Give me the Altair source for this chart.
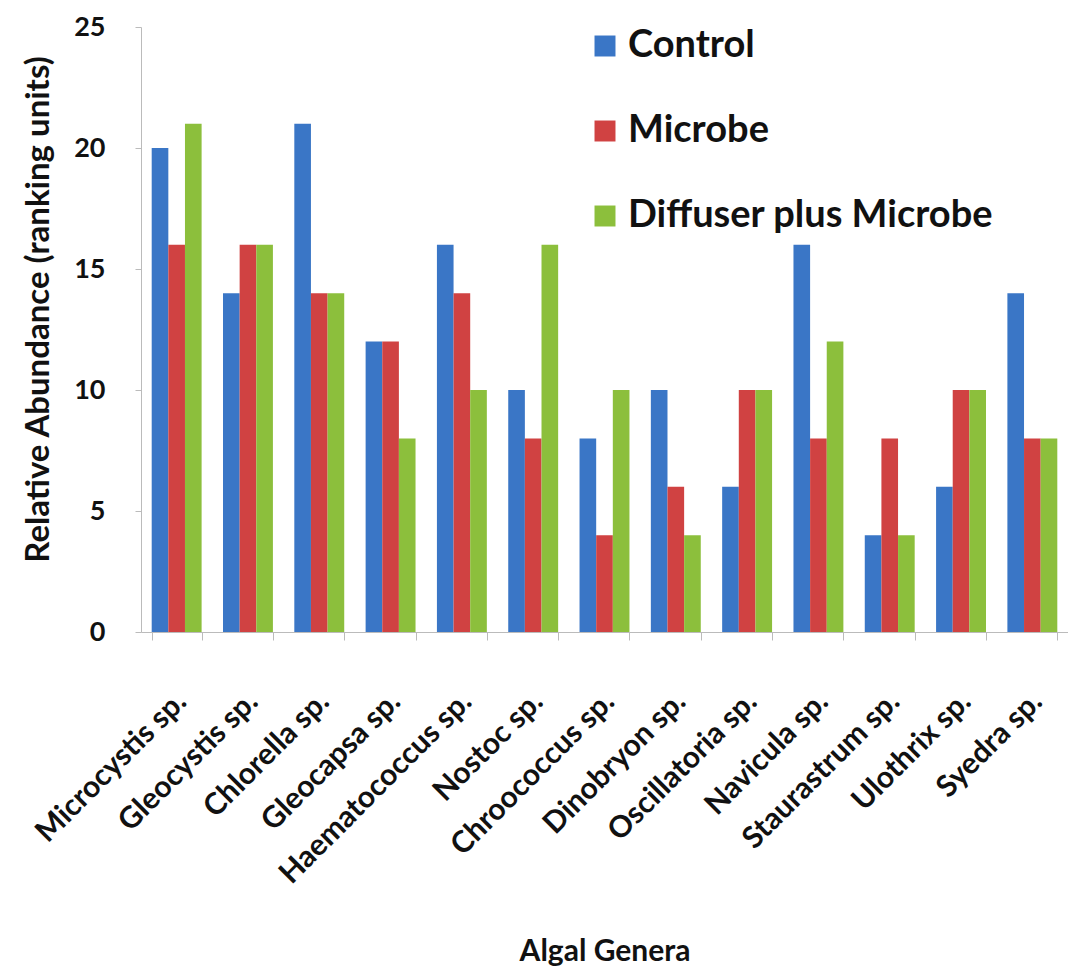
import altair as alt
import pandas as pd

genera = ["Microcystis sp.", "Gleocystis sp.", "Chlorella sp.", "Gleocapsa sp.",
          "Haematococcus sp.", "Nostoc sp.", "Chroococcus sp.", "Dinobryon sp.",
          "Oscillatoria sp.", "Navicula sp.", "Staurastrum sp.", "Ulothrix sp.", "Syedra sp."]
series = ["Control", "Microbe", "Diffuser plus Microbe"]
control = [20, 14, 21, 12, 16, 10, 8, 10, 6, 16, 4, 6, 14]
microbe = [16, 16, 14, 12, 14, 8, 4, 6, 10, 8, 8, 10, 8]
diffuser = [21, 16, 14, 8, 10, 16, 10, 4, 10, 12, 4, 10, 8]
colors = ["#3a76c6", "#d04242", "#8cbf3c"]

rows = []
for i, g in enumerate(genera):
    for s, vals in zip(series, [control, microbe, diffuser]):
        rows.append({"genus": g, "series": s, "value": vals[i]})
df = pd.DataFrame(rows)

FONT = "Lato"

chart = alt.Chart(df).mark_bar().encode(
    x=alt.X("genus:N", sort=genera, title="Algal Genera",
            scale=alt.Scale(paddingInner=0.3, paddingOuter=0.15),
            axis=alt.Axis(labelAngle=-45, labelFontSize=30, labelFont=FONT, labelFontWeight="bold",
                          labelColor="#111", domainColor="#bbbbbb", tickColor="#bbbbbb",
                          tickBand="extent", tickSize=8, labelPadding=46, labelOffset=-6,
                          labelLimit=400,
                          titleFontSize=30, titleFont=FONT, titleFontWeight="bold", titleColor="#111",
                          titleY=328, titleBaseline="alphabetic")),
    xOffset=alt.XOffset("series:N", sort=series),
    y=alt.Y("value:Q", title="Relative Abundance (ranking units)",
            scale=alt.Scale(domain=[0, 25], nice=False),
            axis=alt.Axis(values=[0, 5, 10, 15, 20, 25], grid=False, labelFontSize=27,
                          labelFont=FONT, labelFontWeight="bold", labelColor="#111",
                          domainColor="#bbbbbb", tickColor="#bbbbbb", tickSize=6, labelPadding=30,
                          titleFontSize=33, titleFont=FONT, titleFontWeight="bold", titleColor="#111",
                          titleX=-103, titleY=282, titleAngle=-90, titleBaseline="middle")),
    color=alt.Color("series:N", sort=series,
                    scale=alt.Scale(domain=series, range=colors),
                    legend=alt.Legend(title=None, orient="none", legendX=445, legendY=0,
                                      symbolType="square", symbolSize=440, symbolStrokeWidth=0,
                                      labelFontSize=38, labelFont=FONT, labelFontWeight="bold",
                                      labelColor="#111", rowPadding=47, labelOffset=4,
                                      labelLimit=600)),
).properties(
    width=927, height=605,
    autosize=alt.AutoSizeParams(type="none"),
    padding={"left": 133, "top": 19, "right": 0, "bottom": 335},
).configure_view(stroke=None)

chart.save("out.html", embed_options={"renderer": "svg", "actions": False})
